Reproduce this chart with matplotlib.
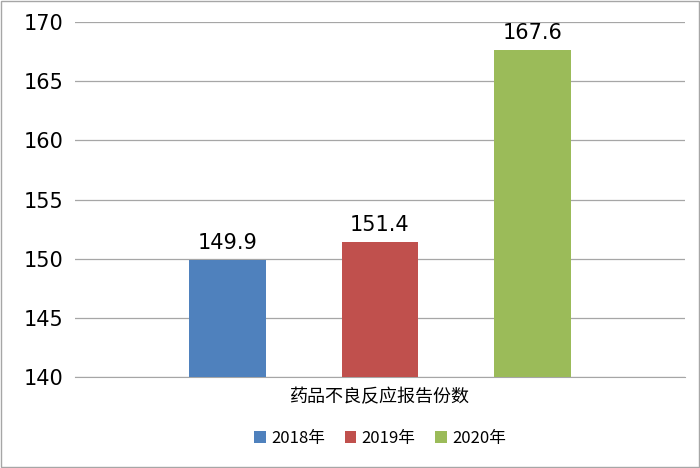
import matplotlib
matplotlib.use("Agg")
import matplotlib.pyplot as plt
from matplotlib.patches import Rectangle

category = "药品不良反应报告份数"
series = ["2018年", "2019年", "2020年"]
values = [149.9, 151.4, 167.6]
colors = ["#4F81BD", "#C0504D", "#9BBB59"]
yticks = [140, 145, 150, 155, 160, 165, 170]

plt.rcParams["font.family"] = ["DejaVu Sans", "Noto Sans CJK SC"]
fig = plt.figure(figsize=(7, 4.68), dpi=100)
ax = fig.add_axes([75/700, 1-377/468, 610/700, 355/468])
offsets = [-0.25, 0, 0.25]
for off, v, c, s in zip(offsets, values, colors, series):
    ax.bar(off, v - 140, bottom=140, width=0.126, color=c, label=s, zorder=3)
    ax.text(off, v + 0.6, f"{v}", ha="center", va="bottom", fontsize=15)
ax.set_xlim(-0.5, 0.5)
ax.set_ylim(140, 170)
ax.set_yticks(yticks)
ax.tick_params(axis="y", labelsize=15, length=0, pad=8)
ax.set_xticks([0])
ax.set_xticklabels([category], fontsize=13, fontfamily="Noto Sans CJK SC")
ax.tick_params(axis="x", length=0, pad=8)
ax.grid(axis="y", color="#A6A6A6", linewidth=0.9, zorder=0)
for sp in ["top", "right", "left"]:
    ax.spines[sp].set_visible(False)
ax.spines["bottom"].set_color("#A6A6A6")
fig.legend(loc="center", bbox_to_anchor=(380/700, 1-438/468), ncol=3, frameon=False,
           prop={"family": "Noto Sans CJK SC", "size": 12}, handlelength=0.7,
           handleheight=0.7, columnspacing=1.2, handletextpad=0.3)
fig.patches.append(Rectangle((0.002, 0.003), 0.996, 0.994, transform=fig.transFigure,
                             fill=False, edgecolor="#A6A6A6", linewidth=1))
fig.savefig("out.png", dpi=100)
